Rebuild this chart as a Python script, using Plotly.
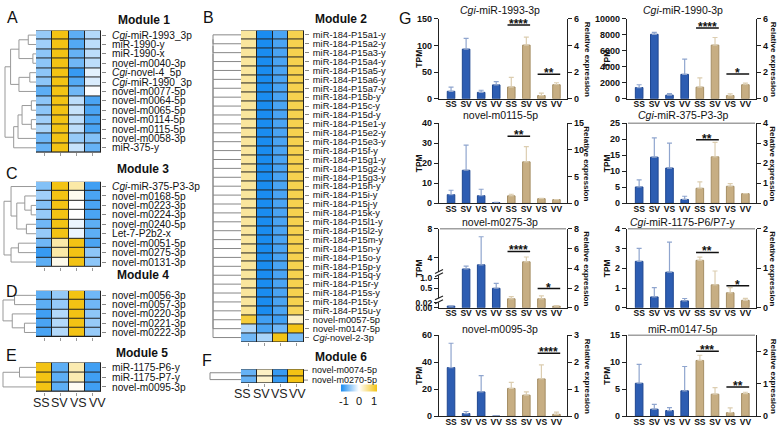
import plotly.graph_objects as go

FONT = "Liberation Sans, Arial, sans-serif"
W, H = 779, 431

# ---------------- DATA ----------------
HM_COLS = ["SS", "SV", "VS", "VV"]

m1_labels = ["<i>Cgi</i>-miR-1993_3p", "miR-1990-y", "miR-1990-x", "novel-m0040-3p",
             "<i>Cgi</i>-novel-4_5p", "<i>Cgi</i>-miR-1990_3p", "novel-m0077-5p", "novel-m0064-5p",
             "novel-m0065-5p", "novel-m0114-5p", "novel-m0115-5p", "novel-m0058-3p", "miR-375-y"]
m1_z = [
    [-0.55, 1.5, -0.85, -0.4],
    [-0.5, 1.5, -0.9, -0.35],
    [-0.6, 1.5, -0.8, -0.35],
    [-0.6, 1.5, -0.75, -0.35],
    [-0.6, 1.5, -1.05, -0.15],
    [-0.6, 1.5, -0.9, -0.2],
    [-0.85, 1.5, -0.75, -0.02],
    [-0.6, 1.5, -0.35, -0.95],
    [-0.6, 1.5, -0.3, -0.95],
    [-0.5, 1.5, -0.35, -0.95],
    [-0.45, 1.5, -0.35, -0.95],
    [-0.75, 1.5, -0.55, -0.65],
    [-0.8, 1.5, -0.3, -0.8],
]

m2_labels = ["miR-184-P15a1-y", "miR-184-P15a2-y", "miR-184-P15a3-y", "miR-184-P15a4-y",
             "miR-184-P15a5-y", "miR-184-P15a6-y", "miR-184-P15a7-y", "miR-184-P15b-y",
             "miR-184-P15c-y", "miR-184-P15d-y", "miR-184-P15e1-y", "miR-184-P15e2-y",
             "miR-184-P15e3-y", "miR-184-P15f-y", "miR-184-P15g1-y", "miR-184-P15g2-y",
             "miR-184-P15g3-y", "miR-184-P15h-y", "miR-184-P15i-y", "miR-184-P15j-y",
             "miR-184-P15k-y", "miR-184-P15l1-y", "miR-184-P15l2-y", "miR-184-P15m-y",
             "miR-184-P15n-y", "miR-184-P15o-y", "miR-184-P15p-y", "miR-184-P15q-y",
             "miR-184-P15r-y", "miR-184-P15s-y", "miR-184-P15t-y", "miR-184-P15u-y",
             "novel-m0057-5p", "novel-m0147-5p", "<i>Cgi</i>-novel-2-3p"]
m2_z = [
    [0.5, -1.3, -0.95, 0.9], [0.5, -1.3, -0.95, 0.9], [0.5, -1.3, -0.95, 0.9],
    [0.5, -1.3, -0.95, 0.9], [0.5, -1.3, -0.95, 0.9], [0.5, -1.3, -0.95, 0.9],
    [0.5, -1.3, -0.95, 0.9], [0.5, -1.3, -0.95, 0.9], [0.5, -1.3, -0.95, 0.9],
    [0.5, -1.3, -0.95, 0.9], [0.5, -1.3, -0.95, 0.9], [0.5, -1.3, -0.95, 0.9],
    [0.5, -1.3, -0.95, 0.9], [0.5, -1.3, -0.95, 0.9], [0.5, -1.3, -0.95, 0.9],
    [0.5, -1.3, -0.95, 0.9], [0.5, -1.3, -0.95, 0.9], [0.5, -1.3, -0.95, 0.9],
    [0.5, -1.3, -0.95, 0.9], [0.5, -1.3, -0.95, 0.9], [0.5, -1.3, -0.95, 0.9],
    [0.5, -1.3, -0.95, 0.9], [0.5, -1.3, -0.95, 0.9], [0.5, -1.3, -0.95, 0.9],
    [0.5, -1.3, -0.95, 0.9], [0.5, -1.3, -0.95, 0.9], [0.5, -1.3, -0.95, 0.9],
    [0.5, -1.3, -0.95, 0.9], [0.5, -1.3, -0.95, 0.9], [0.5, -1.3, -0.95, 0.9],
    [0.5, -1.3, -0.95, 0.9], [0.55, -1.3, -0.95, 0.85],
    [1.0, -1.0, -1.0, 0.3],
    [-0.4, -0.95, -0.75, 1.3],
    [-0.75, -0.45, 1.4, -0.7],
]

m3_labels = ["<i>Cgi</i>-miR-375-P3-3p", "novel-m0168-5p", "novel-m0223-3p", "novel-m0224-3p",
             "novel-m0240-5p", "Let-7-P2b2-x", "novel-m0051-5p", "novel-m0275-3p", "novel-m0131-3p"]
m3_z = [
    [-0.65, 1.3, 0.45, -1.0],
    [-0.5, 1.4, 0.08, -0.95],
    [-0.65, 1.4, 0.0, -0.95],
    [-0.55, 1.4, 0.0, -0.95],
    [-0.75, 1.4, -0.1, -0.85],
    [-0.55, 1.4, -0.1, -0.85],
    [-0.75, 0.45, 1.2, -0.95],
    [-1.05, 0.45, 1.2, -0.6],
    [-0.85, 0.1, 1.3, -0.6],
]

m4_labels = ["novel-m0056-3p", "novel-m0057-3p", "novel-m0220-3p", "novel-m0221-3p", "novel-m0222-3p"]
m4_z = [
    [-0.85, -0.55, 1.5, -0.75],
    [-0.85, -0.55, 1.5, -0.75],
    [-1.0, -0.4, 1.5, -0.6],
    [-0.95, -0.4, 1.5, -0.55],
    [-0.95, -0.4, 1.5, -0.55],
]

m5_labels = ["miR-1175-P6-y", "miR-1175-P7-y", "novel-m0095-3p"]
m5_z = [
    [1.3, -0.85, 0.4, -1.0],
    [1.3, -0.85, 0.4, -1.0],
    [1.4, -0.85, 0.05, -1.0],
]

m6_labels = ["novel-m0074-5p", "novel-m0270-5p"]
m6_z = [
    [-0.8, 0.3, -1.05, 1.3],
    [-0.8, 0.25, -1.05, 1.3],
]

# dendrogram merges: (a, b, height)  (leaves 0..n-1, clusters n..)
m1_link = [(0, 1, 0.25), (2, 3, 0.1), (13, 14, 0.55), (4, 5, 0.2), (16, 6, 0.55),
           (15, 17, 0.82), (7, 8, 0.15), (9, 10, 0.15), (19, 20, 0.45), (21, 11, 0.58),
           (22, 12, 0.72), (18, 23, 1.0)]
m3_link = [(2, 3, 0.15), (1, 9, 0.35), (4, 5, 0.3), (10, 11, 0.6), (0, 12, 0.78),
           (6, 7, 0.55), (14, 8, 0.78), (13, 15, 1.0)]
m4_link = [(0, 1, 0.65), (3, 4, 0.35), (2, 6, 0.72), (5, 7, 1.0)]
m5_link = [(0, 1, 0.5), (3, 2, 1.0)]

# ---- bar panels (G) ----
G_CATS = ["SS", "SV", "VS", "VV", "SS", "SV", "VS", "VV"]
g_titles = ["<i>Cgi</i>-miR-1993-3p", "<i>Cgi</i>-miR-1990-3p", "novel-m0115-5p",
            "<i>Cgi</i>-miR-375-P3-3p", "novel-m0275-3p", "<i>Cgi</i>-miR-1175-P6/P7-y",
            "novel-m0095-3p", "miR-m0147-5p"]
tpm_mean = [
    [14, 93, 12, 26],
    [1400, 8050, 450, 3050],
    [4.3, 16.5, 3.8, 0.3],
    [5.1, 14.4, 11.0, 1.2],
    [0.007, 2.5, 3.07, 0.5],
    [2.35, 0.55, 1.8, 0.35],
    [36, 2.0, 18.0, 0.0],
    [6.1, 1.3, 1.05, 4.7],
]
tpm_upper = [
    [22, 113, 16, 32],
    [1750, 8300, 650, 4950],
    [6.5, 29, 7, 0.5],
    [7.3, 20.4, 18.8, 2.2],
    [0.007, 2.9, 6.9, 0.75],
    [3.0, 1.02, 3.32, 0.47],
    [54, 3.5, 30, 0.0],
    [9.6, 2.2, 1.6, 9.2],
]
rel_mean = [
    [0.88, 4.02, 0.24, 1.05],
    [0.87, 4.02, 0.24, 1.05],
    [1.39, 7.76, 0.86, 0.68],
    [0.75, 2.32, 0.85, 0.48],
    [0.91, 4.65, 0.91, 0.16],
    [1.2, 0.58, 0.38, 0.19],
    [1.03, 0.78, 1.38, 0.07],
    [1.72, 0.68, 0.11, 0.70],
]
rel_upper = [
    [1.6, 4.62, 0.42, 1.2],
    [1.56, 4.59, 0.36, 1.17],
    [1.69, 10.6, 0.94, 0.71],
    [1.07, 3.04, 0.98, 0.48],
    [1.14, 5.14, 1.2, 0.23],
    [1.28, 0.93, 0.51, 0.24],
    [1.25, 0.9, 1.9, 0.15],
    [1.88, 0.88, 0.26, 0.74],
]
left_ticks = [
    [0, 50, 100, 150],
    [0, 2000, 4000, 6000, 8000, 10000],
    [0, 10, 20, 30, 40],
    [0, 5, 10, 15, 20, 25],
    [0, 0.02, 0.5, 1.0, 4, 8],
    [0, 1, 2, 3, 4],
    [0, 20, 40, 60],
    [0, 5, 10, 15],
]
left_ticktext_broken = ["0.00", "0.02", "0.5", "1.0", "4", "8"]
right_ticks = [
    [0, 2, 4, 6], [0, 2, 4, 6], [0, 5, 10, 15], [0, 1, 2, 3, 4],
    [0, 2, 4, 6, 8], [0, 1, 2], [0, 1, 2, 3], [0, 1, 2],
]
right_max = [6, 6, 15, 4, 8, 2, 3, 2.5]
# significance: (bar i, bar j, height in relative-expression units, label)
g_sig = [
    [(4, 5, 5.52, "****"), (6, 7, 1.83, "**")],
    [(4, 5, 5.31, "****"), (6, 7, 1.85, "*")],
    [(4, 5, 12.56, "**")],
    [(4, 5, 3.17, "**")],
    [(4, 5, 5.7, "****"), (6, 7, 1.95, "*")],
    [(4, 5, 1.4, "**"), (6, 7, 0.56, "*")],
    [(6, 7, 2.33, "****")],
    [(4, 5, 2.0, "***"), (6, 7, 0.9, "**")],
]
BROKEN = 4


def brk(v):
    """broken-axis display scale for novel-m0275-3p TPM axis"""
    if v <= 0.02:
        return v / 0.02 * 15
    if v <= 1.2:
        return 60 + (v - 0.5) * 60
    return 153 + (v - 4) * 22.5


BROKEN_TOP = brk(8)

# ---------------- FIGURE ----------------
def px(x):
    return x / W


def py(y):
    return 1 - y / H


fig = go.Figure()
layout = {}
shapes = []
annotations = []
cnt = {"x": 0, "y": 0}


def nxt(k):
    cnt[k] += 1
    return cnt[k]


def ref(k, i):
    return k + ("" if i == 1 else str(i))


def key(k, i):
    return k + "axis" + ("" if i == 1 else str(i))


def line_px(x0, y0, x1, y1, color, width):
    shapes.append(dict(type="line", xref="paper", yref="paper", x0=px(x0), y0=py(y0),
                       x1=px(x1), y1=py(y1), line=dict(color=color, width=width)))


def add_heatmap(labels, z, box, fs, standoff, label_y=None, col_label_xy=None):
    x0, x1, top, bottom = box
    xi, yi = nxt("x"), nxt("y")
    xr, yr = ref("x", xi), ref("y", yi)
    n = len(labels)
    fig.add_trace(go.Heatmap(z=z, x=[0, 1, 2, 3], y=list(range(n)), coloraxis="coloraxis",
                             xgap=1, ygap=1, xaxis=xr, yaxis=yr, hoverinfo="skip"))
    layout[key("x", xi)] = dict(domain=[px(x0), px(x1)], anchor=yr, range=[-0.5, 3.5],
                                tickmode="array", tickvals=[0, 1, 2, 3], ticktext=HM_COLS,
                                showticklabels=False, ticks="outside", ticklen=3,
                                tickcolor="#999", showgrid=False, zeroline=False, showline=False)
    if col_label_xy is not None:
        xs, ly = col_label_xy
        for lab, lx in zip(HM_COLS, xs):
            annotations.append(dict(text=lab, x=px(lx), y=py(ly), xref="paper", yref="paper",
                                    xanchor="center", yanchor="middle", showarrow=False,
                                    font=dict(size=12.5, color="#222")))
    yax = dict(domain=[py(bottom), py(top)], anchor=xr, range=[n - 0.5, -0.5],
               side="right", tickmode="array", tickvals=list(range(n)),
               ticktext=labels, ticks="outside", ticklen=4, tickcolor="#888",
               ticklabelstandoff=standoff,
               showgrid=False, zeroline=False, tickfont=dict(size=fs, color="#111"))
    if label_y is not None:
        # labels spread a little beyond the (thin) rows, as in the reference
        yax.update(showticklabels=False, ticks="")
        for lab, ly in zip(labels, label_y):
            line_px(x1, ly, x1 + 4, ly, "#888", 1)
            annotations.append(dict(text=lab, x=px(x1 + 6), y=py(ly), xref="paper", yref="paper",
                                    xanchor="left", yanchor="middle", showarrow=False,
                                    font=dict(size=fs, color="#111")))
    layout[key("y", yi)] = yax
    shapes.append(dict(type="rect", xref=xr, yref=yr, x0=-0.5, x1=3.5, y0=-0.5, y1=n - 0.5,
                       fillcolor="#222", line=dict(color="#222", width=1), layer="below"))


def add_dendro(link, n, top, bottom, xl, xr, color="#999"):
    rowh = (bottom - top) / n
    pos = {i: (top + (i + 0.5) * rowh, 0.0) for i in range(n)}
    for k, (a, b, h) in enumerate(link):
        xh = xr - h * (xr - xl)
        ya, ha = pos[a]
        yb, hb = pos[b]
        line_px(xh, ya, xh, yb, color, 1)
        line_px(xr - ha * (xr - xl), ya, xh, ya, color, 1)
        line_px(xr - hb * (xr - xl), yb, xh, yb, color, 1)
        pos[n + k] = ((ya + yb) / 2, h)


def comb_link(n):
    out = [(0, 1, 1.0)]
    for i in range(2, n):
        out.append((n + i - 2, i, 1.0))
    return out


HX0, HX1 = 36, 101
add_heatmap(m1_labels, m1_z, (HX0, HX1, 26, 151), 10.2, 4)
add_heatmap(m3_labels, m3_z, (HX0, HX1, 181, 268), 10.2, 4)
add_heatmap(m4_labels, m4_z, (HX0, HX1, 292.5, 340), 10.2, 4)
add_heatmap(m5_labels, m5_z, (HX0, HX1, 366, 396), 10.2, 4,
            col_label_xy=([41, 59.5, 78.5, 97], 407))
add_heatmap(m2_labels, m2_z, (241, 304, 26, 345), 9.3, 2)
add_heatmap(m6_labels, m6_z, (241, 304, 373, 387), 9, 2, label_y=[374, 384],
            col_label_xy=([243, 261, 279, 297], 398))

add_dendro(m1_link, 13, 26, 151, 5, 36)
add_dendro(m3_link, 9, 181, 268, 4, 36)
add_dendro(m4_link, 5, 292.5, 340, 3, 36)
add_dendro(m5_link, 3, 366, 396, 3, 36)
add_dendro(comb_link(35), 35, 26, 345, 213, 241, color="#888")
add_dendro(comb_link(2), 2, 373, 387, 210, 241, color="#888")

for txt, x, y in [("Module 1", 116, 15), ("Module 3", 115, 168), ("Module 4", 115, 276),
                  ("Module 5", 114, 356), ("Module 2", 313, 14), ("Module 6", 313, 360)]:
    annotations.append(dict(text=txt, x=px(x), y=py(y), xref="paper", yref="paper",
                            xanchor="left", yanchor="middle", showarrow=False,
                            font=dict(size=12, weight="bold", color="#111")))
for txt, x, y in [("A", 12, 13), ("B", 208, 13), ("C", 12, 172), ("D", 12, 293), ("E", 11, 359),
                  ("F", 207, 364), ("G", 405, 14)]:
    annotations.append(dict(text=txt, x=px(x), y=py(y), xref="paper", yref="paper",
                            xanchor="center", yanchor="middle", showarrow=False,
                            font=dict(size=16, color="#111")))

# ---- bar panels ----
BLUE, BLUE_EDGE, BLUE_ERR = "#2D5DB2", "#1E4690", "#8FA5CE"
TAN, TAN_EDGE, TAN_ERR = "#C7AE83", "#A58E65", "#DCCDB0"
cols_x = [(439, 567), (627, 756)]
rows_y = [(14, 96), (121, 203), (229, 310), (338, 421)]
title_y = [5, 113, 222, 332]
title_x = [500, 683]
tpm_x = [419, 607]
rel_x = [587, 773]
top_line = [False, False, False, True, True, True, False, True]
TICKF = dict(size=9, weight="bold", color="#111")

for i in range(8):
    r, c = divmod(i, 2)
    x0, x1 = cols_x[c]
    top, bottom = rows_y[r]
    xi, yl, yr2 = nxt("x"), nxt("y"), nxt("y")
    xr, ylr, yrr = ref("x", xi), ref("y", yl), ref("y", yr2)
    lfont = TICKF
    if i == BROKEN:
        yb = [brk(v) for v in tpm_mean[i]]
        eb = [brk(u) - brk(v) for u, v in zip(tpm_upper[i], tpm_mean[i])]
        lrange = [0, BROKEN_TOP]
        ltv = [brk(v) for v in left_ticks[i]]
        ltt = left_ticktext_broken
        lfont = dict(size=8.5, weight="bold", color="#111")
    else:
        yb = tpm_mean[i]
        eb = [u - v for u, v in zip(tpm_upper[i], tpm_mean[i])]
        lrange = [0, max(left_ticks[i])]
        ltv = left_ticks[i]
        ltt = [f"{v:g}" for v in left_ticks[i]]
    fig.add_trace(go.Bar(x=[0, 1, 2, 3], y=yb, width=0.5, xaxis=xr, yaxis=ylr,
                         marker=dict(color=BLUE, line=dict(color=BLUE_EDGE, width=1)),
                         error_y=dict(type="data", symmetric=False, array=eb, arrayminus=[0] * 4,
                                      color=BLUE_ERR, thickness=1.2, width=2.5),
                         hoverinfo="skip"))
    fig.add_trace(go.Bar(x=[4, 5, 6, 7], y=rel_mean[i], width=0.5, xaxis=xr, yaxis=yrr,
                         marker=dict(color=TAN, line=dict(color=TAN_EDGE, width=1)),
                         error_y=dict(type="data", symmetric=False,
                                      array=[u - v for u, v in zip(rel_upper[i], rel_mean[i])],
                                      arrayminus=[0] * 4, color=TAN_ERR, thickness=1.2, width=2.5),
                         hoverinfo="skip"))
    layout[key("x", xi)] = dict(domain=[px(x0), px(x1)], anchor=ylr, range=[-0.8, 7.7],
                                tickmode="array", tickvals=list(range(8)), ticktext=G_CATS,
                                showline=True, linecolor="#222", linewidth=1.3, ticks="",
                                tickangle=0, ticklabelstandoff=-3,
                                showgrid=False, zeroline=False,
                                tickfont=dict(size=8.5, weight="bold", color="#111"))
    layout[key("y", yl)] = dict(domain=[py(bottom), py(top)], anchor=xr, range=lrange,
                                tickmode="array", tickvals=ltv, ticktext=ltt,
                                showline=True, linecolor="#222", linewidth=1.3,
                                ticks="outside", ticklen=4, tickwidth=1.2, tickcolor="#222",
                                showgrid=False, zeroline=False, tickfont=lfont)
    layout[key("y", yr2)] = dict(domain=[py(bottom), py(top)], anchor=xr, overlaying=ylr,
                                 side="right", range=[0, right_max[i]], tickmode="array",
                                 tickvals=right_ticks[i], showline=True, linecolor="#222",
                                 linewidth=1.3, ticks="outside", ticklen=4, tickwidth=1.2,
                                 tickcolor="#222", showgrid=False, zeroline=False, tickfont=TICKF)
    # title + axis titles
    annotations.append(dict(text=g_titles[i], x=px(title_x[c]), y=py(title_y[r]), xref="paper",
                            yref="paper", xanchor="center", yanchor="middle", showarrow=False,
                            font=dict(size=10.5, color="#111")))
    annotations.append(dict(text="TPM", x=px(tpm_x[c]), y=py((top + bottom) / 2), xref="paper",
                            yref="paper", xanchor="center", yanchor="middle", textangle=-90,
                            showarrow=False, font=dict(size=8.5, weight="bold", color="#111")))
    annotations.append(dict(text="Relative expression", x=px(rel_x[c]), y=py((top + bottom) / 2),
                            xref="paper", yref="paper", xanchor="center", yanchor="middle",
                            textangle=90, showarrow=False,
                            font=dict(size=8, weight="bold", color="#111")))
    if top_line[i]:
        line_px(x0 + 1, top, x1 - 1, top, "#a0a0a0", 1.5)
    # significance
    for a, b, h, lab in g_sig[i]:
        shapes.append(dict(type="line", xref=xr, yref=yrr, x0=a - 0.25, x1=b + 0.25, y0=h, y1=h,
                           line=dict(color="#111", width=1.5)))
        annotations.append(dict(text=lab, x=(a + b) / 2, y=h, xref=xr, yref=yrr,
                                xanchor="center", yanchor="middle", showarrow=False, yshift=1,
                                font=dict(size=12, weight="bold", color="#111")))
    if i == BROKEN:
        def dy(d):
            return bottom - d / BROKEN_TOP * (bottom - top)
        for dlo, dhi in [(17, 29), (100, 110)]:
            shapes.append(dict(type="rect", xref="paper", yref="paper", x0=px(x0 - 2), x1=px(x0 + 2),
                               y0=py(dy(dlo)), y1=py(dy(dhi)), fillcolor="white",
                               line=dict(width=0)))
            line_px(x0 - 4, dy(dlo) + 1.5, x0 + 4, dy(dlo) - 2.5, "#222", 1.2)
            line_px(x0 - 4, dy(dhi) + 1.5, x0 + 4, dy(dhi) - 2.5, "#222", 1.2)

layout.update(
    width=W, height=H, margin=dict(l=0, r=0, t=0, b=0),
    paper_bgcolor="white", plot_bgcolor="white", showlegend=False, barmode="overlay",
    font=dict(family=FONT, color="#111"),
    coloraxis=dict(
        colorscale=[[0, "#1A8CF0"], [0.5, "#FFFFFF"], [1, "#F3C314"]], cmin=-1.2, cmax=1.2,
        colorbar=dict(orientation="h", x=px(359), xanchor="center", y=py(398), yanchor="middle",
                      len=56, lenmode="pixels", thickness=7, tickvals=[-1, 0, 1],
                      ticktext=["-1", "0", "1"], tickfont=dict(size=11, color="#111"),
                      outlinewidth=0, ticks="")),
    shapes=shapes, annotations=annotations,
)
fig.update_layout(**layout)
fig.write_html("out.html")
